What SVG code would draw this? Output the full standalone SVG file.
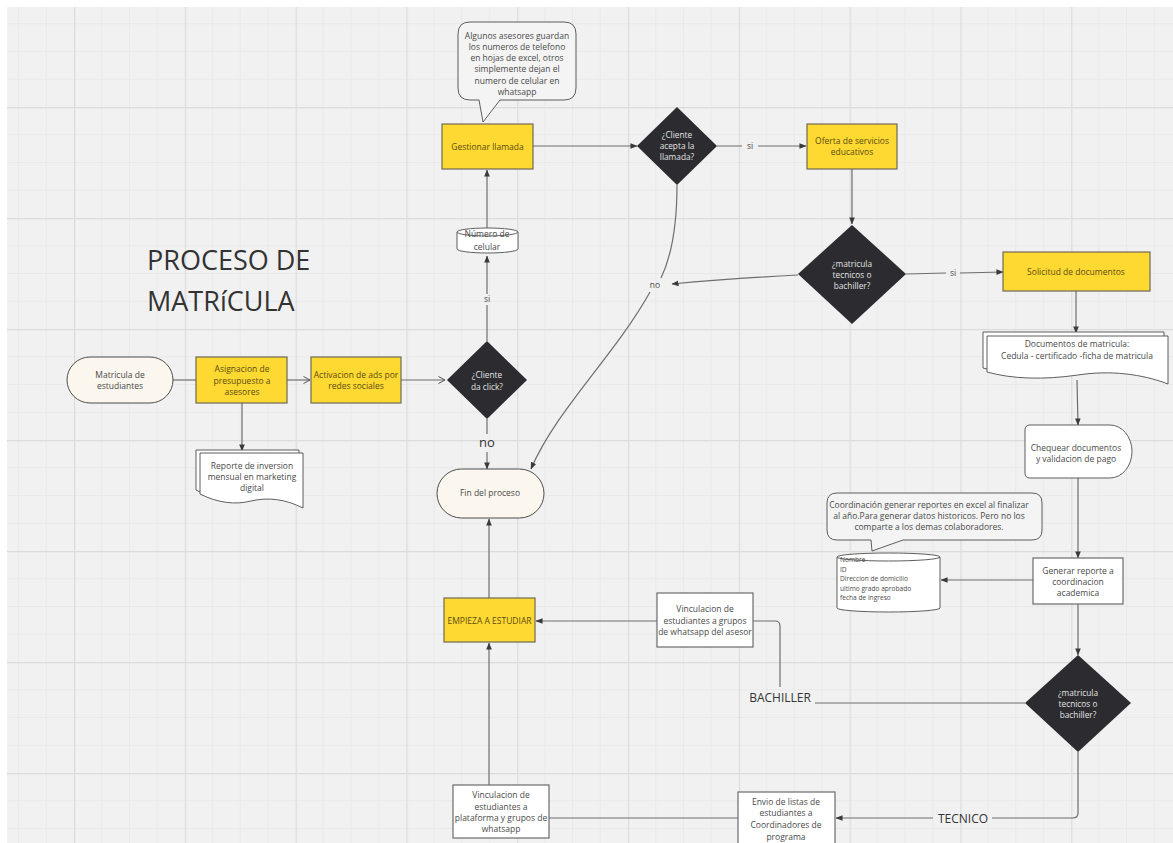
<svg xmlns="http://www.w3.org/2000/svg" width="1173" height="843" viewBox="0 0 1173 843">
  <defs>
    <pattern id="grid" patternUnits="userSpaceOnUse" x="74" y="-4" width="110.8" height="111">
      <rect width="110.8" height="111" fill="#f1f1f1"/>
      <path d="M27.7,0V111M55.4,0V111M83.1,0V111M0,27.75H110.8M0,55.5H110.8M0,83.25H110.8" stroke="#e9e9e9" stroke-width="1" fill="none"/>
      <path d="M0.5,0V111M0,0.5H110.8" stroke="#dcdcdc" stroke-width="1.4" fill="none"/>
    </pattern>
    <marker id="tri" viewBox="0 0 8 8" refX="7.5" refY="4" markerWidth="7" markerHeight="7" orient="auto" markerUnits="userSpaceOnUse">
      <path d="M0,0.8 L8,4 L0,7.2 Z" fill="#3a3a3a"/>
    </marker>
    <marker id="chev" viewBox="0 0 8 8" refX="7.5" refY="4" markerWidth="8" markerHeight="8" orient="auto" markerUnits="userSpaceOnUse">
      <path d="M1,0.5 L7.5,4 L1,7.5" fill="none" stroke="#555" stroke-width="1"/>
    </marker>
    <clipPath id="noteClip">
      <rect x="458" y="22" width="118" height="75.5"/>
    </clipPath>
    <style>
      .t { font-family: "Open Sans", "Liberation Sans", sans-serif; font-size: 8.5px; text-anchor: middle; }
      .dk { fill: #4a4a4a; }
      .yt { fill: #5b4b12; }
      .wt { fill: #e4e4e4; font-size: 8.3px; }
      .big { font-family: "Open Sans", "Liberation Sans", sans-serif; fill: #333; }
      .yel { fill: #fed932; stroke: #6d6a55; stroke-width: 1.2; }
      .box { fill: #ffffff; stroke: #6b6b6b; stroke-width: 1.2; }
      .term { fill: #fbf6ee; stroke: #4d4d4d; stroke-width: 1; }
      .dia { fill: #2b2b30; }
      .doc { fill: #ffffff; stroke: #4d4d4d; stroke-width: 0.9; }
      .note { fill: #f4f4f4; stroke: #4d4d4d; stroke-width: 0.9; }
      .c { fill: none; stroke: #6e6e6e; stroke-width: 1.2; }
    </style>
  </defs>

  <!-- canvas -->
  <rect width="1173" height="843" fill="#ffffff"/>
  <rect x="7" y="7" width="1166" height="836" fill="url(#grid)"/>

  <!-- title -->
  <g id="title">
    <text class="big" x="147" y="270" font-size="27">PROCESO DE</text>
    <text class="big" x="147" y="311" font-size="27">MATRíCULA</text>
  </g>

  <!-- connectors -->
  <g id="connectors">
    <path class="c" d="M173,380 H197"/>
    <path class="c" d="M287,380 H310" marker-end="url(#chev)"/>
    <path class="c" d="M401,380 H445" marker-end="url(#chev)"/>
    <path class="c" d="M242,403 V451" marker-end="url(#tri)"/>
    <path class="c" d="M487,341 V305 M487,294 V256" marker-end="url(#tri)"/>
    <path class="c" d="M487,228 V170" marker-end="url(#tri)"/>
    <path class="c" d="M487,419 V434 M487,452 V469" marker-end="url(#tri)"/>
    <path class="c" d="M533,146 H637" marker-end="url(#tri)"/>
    <path class="c" d="M717,146 H742 M758,146 H806" marker-end="url(#tri)"/>
    <path class="c" d="M677,185 C677,225 672,255 661,278 M650,292 C615,355 556,410 531,469" marker-end="url(#tri)"/>
    <path class="c" d="M798,275 C760,277 715,280 672,284" marker-end="url(#tri)"/>
    <path class="c" d="M852,169 V224" marker-end="url(#tri)"/>
    <path class="c" d="M906,274 L946,273 M960,273 L1003,272" marker-end="url(#tri)"/>
    <path class="c" d="M1076,291 V333" marker-end="url(#tri)"/>
    <path class="c" d="M1077,380 L1078,425" marker-end="url(#tri)"/>
    <path class="c" d="M1078,478 V558" marker-end="url(#tri)"/>
    <path class="c" d="M1033,580 H941" marker-end="url(#tri)"/>
    <path class="c" d="M1078,604 V655" marker-end="url(#tri)"/>
    <path class="c" d="M1025,703 H815"/>
    <path class="c" d="M780,687 V626 Q780,621 775,621 H753"/>
    <path class="c" d="M657,621 H536" marker-end="url(#tri)"/>
    <path class="c" d="M489,598 V519" marker-end="url(#tri)"/>
    <path class="c" d="M489,785 V643" marker-end="url(#tri)"/>
    <path class="c" d="M738,818 H549"/>
    <path class="c" d="M1078,752 V813 Q1078,818 1073,818 H992 M933,818 H836" marker-end="url(#tri)"/>
  </g>

  <!-- connector labels -->
  <g id="labels">
    <text class="t dk" x="487" y="302" font-size="8">si</text>
    <text class="big" x="487" y="447" font-size="13" text-anchor="middle">no</text>
    <text class="t dk" x="750" y="149" font-size="8">si</text>
    <text class="t dk" x="655" y="288" font-size="8.5">no</text>
    <text class="t dk" x="953" y="276" font-size="8">si</text>
    <text class="big" x="780" y="702" font-size="12" text-anchor="middle">BACHILLER</text>
    <text class="big" x="963" y="823" font-size="12" text-anchor="middle">TECNICO</text>
  </g>

  <g id="n-matricula">
    <rect class="term" x="67" y="357" width="106" height="46" rx="23"/>
    <text class="t dk" x="120" y="378">Matricula de</text>
    <text class="t dk" x="120" y="389">estudiantes</text>
  </g>

  <g id="n-asignacion">
    <rect class="yel" x="196" y="357" width="91" height="46"/>
    <text class="t yt" x="242" y="372">Asignacion de</text>
    <text class="t yt" x="242" y="384">presupuesto a</text>
    <text class="t yt" x="242" y="395">asesores</text>
  </g>

  <g id="n-reporte">
    <path class="doc" d="M196,450 H299 V503 C280,495 265,494 248,498 C232,502 215,500 196,490 Z"/>
    <path class="doc" d="M200,453 H303 V508 C285,499 268,497 251,501 C235,505 218,503 200,494 Z"/>
    <text class="t dk" x="252" y="469">Reporte de inversion</text>
    <text class="t dk" x="252" y="480">mensual en marketing</text>
    <text class="t dk" x="252" y="491">digital</text>
  </g>

  <g id="n-activacion">
    <rect class="yel" x="311" y="357" width="90" height="46"/>
    <text class="t yt" x="356" y="378">Activacion de ads por</text>
    <text class="t yt" x="356" y="389">redes sociales</text>
  </g>

  <g id="n-click">
    <path class="dia" d="M487,341 L527,380 L487,419 L447,380 Z"/>
    <text class="t wt" x="487" y="378">¿Cliente</text>
    <text class="t wt" x="487" y="390">da click?</text>
  </g>

  <g id="n-celular">
    <path class="doc" d="M457,232 A30.5,4 0 0 1 518,232 V249 A30.5,4 0 0 1 457,249 Z"/>
    <path class="doc" d="M457,232 A30.5,4 0 0 0 518,232" fill="none"/>
    <text class="t dk" x="487" y="237" font-size="9.5">Número de</text>
    <text class="t dk" x="487" y="250" font-size="9.5">celular</text>
  </g>

  <g id="n-gestionar">
    <rect class="yel" x="442" y="124" width="91" height="45"/>
    <text class="t yt" x="487.5" y="150">Gestionar llamada</text>
  </g>

  <g id="n-nota-asesores">
    <path class="note" d="M470,22 H564 Q576,22 576,34 V88 Q576,100 564,100 H500 L483,122 L479,100 H470 Q458,100 458,88 V34 Q458,22 470,22 Z"/>
    <g clip-path="url(#noteClip)">
      <text class="t dk" x="517" y="39">Algunos asesores guardan</text>
      <text class="t dk" x="517" y="50">los numeros de telefono</text>
      <text class="t dk" x="517" y="61">en hojas de excel, otros</text>
      <text class="t dk" x="517" y="72">simplemente dejan el</text>
      <text class="t dk" x="517" y="83.5">numero de celular en</text>
      <text class="t dk" x="517" y="95">whatsapp</text>
    </g>
  </g>

  <g id="n-acepta">
    <path class="dia" d="M677,107 L717,146 L677,185 L637,146 Z"/>
    <text class="t wt" x="677" y="138">¿Cliente</text>
    <text class="t wt" x="677" y="149">acepta la</text>
    <text class="t wt" x="677" y="160">llamada?</text>
  </g>

  <g id="n-oferta">
    <rect class="yel" x="807" y="124" width="90" height="45"/>
    <text class="t yt" x="852" y="144">Oferta de servicios</text>
    <text class="t yt" x="852" y="155">educativos</text>
  </g>

  <g id="n-tipo1">
    <path class="dia" d="M852,225 L906,274 L852,324 L798,274 Z"/>
    <text class="t wt" x="852" y="267">¿matricula</text>
    <text class="t wt" x="852" y="278">tecnicos o</text>
    <text class="t wt" x="852" y="289">bachiller?</text>
  </g>

  <g id="n-fin">
    <rect class="term" x="437" y="469" width="107" height="49" rx="24.5"/>
    <text class="t dk" x="490" y="496">Fin del proceso</text>
  </g>

  <g id="n-solicitud">
    <rect class="yel" x="1003" y="252" width="147" height="39"/>
    <text class="t yt" x="1076" y="275">Solicitud de documentos</text>
  </g>

  <g id="n-documentos">
    <path class="doc" d="M983,332 H1164 V378 C1140,370 1110,367 1075,372 C1040,377 1010,376 983,368 Z"/>
    <path class="doc" d="M987,336 H1168 V384 C1142,374 1110,370 1078,375 C1043,380 1012,379 987,372 Z"/>
    <text class="t dk" x="1077" y="347">Documentos de matricula:</text>
    <text class="t dk" x="1077" y="359">Cedula - certificado -ficha de matricula</text>
  </g>

  <g id="n-chequear">
    <path class="doc" d="M1030,425 H1110 A22,26.5 0 0 1 1110,478 H1030 Q1025,478 1025,473 V430 Q1025,425 1030,425 Z"/>
    <text class="t dk" x="1076" y="451">Chequear documentos</text>
    <text class="t dk" x="1076" y="462">y validacion de pago</text>
  </g>

  <g id="n-nota-coordinacion">
    <path class="note" d="M837,493 H1032 Q1042,493 1042,503 V530 Q1042,540 1032,540 H903 L872,551 L871,540 H837 Q827,540 827,530 V503 Q827,493 837,493 Z"/>
    <text class="t dk" x="929" y="508">Coordinación generar reportes en excel al finalizar</text>
    <text class="t dk" x="929" y="519">al año.Para generar datos historicos. Pero no los</text>
    <text class="t dk" x="929" y="530">comparte a los demas colaboradores.</text>
  </g>

  <g id="n-base-datos">
    <path class="doc" d="M837,557 A51.5,4 0 0 1 940,557 V608 A51.5,4 0 0 1 837,608 Z" fill="#f6f6f6"/>
    <path class="doc" d="M837,557 A51.5,4 0 0 0 940,557" fill="none"/>
    <g font-family="'Open Sans', 'Liberation Sans', sans-serif" font-size="6.6" fill="#4a4a4a">
      <text x="840" y="562">Nombre</text>
      <text x="840" y="571.5">ID</text>
      <text x="840" y="581">Direccion de domicilio</text>
      <text x="840" y="590.5">ultimo grado aprobado</text>
      <text x="840" y="600">fecha de ingreso</text>
    </g>
  </g>

  <g id="n-generar">
    <rect class="box" x="1033" y="558" width="90" height="46"/>
    <text class="t dk" x="1078" y="574" font-size="9">Generar reporte a</text>
    <text class="t dk" x="1078" y="585" font-size="9">coordinacion</text>
    <text class="t dk" x="1078" y="596" font-size="9">academica</text>
  </g>

  <g id="n-tipo2">
    <path class="dia" d="M1078,655 L1131,703 L1078,752 L1025,703 Z"/>
    <text class="t wt" x="1078" y="696">¿matricula</text>
    <text class="t wt" x="1078" y="707">tecnicos o</text>
    <text class="t wt" x="1078" y="718">bachiller?</text>
  </g>

  <g id="n-vinc-asesor">
    <rect class="box" x="657" y="593" width="96" height="54"/>
    <text class="t dk" x="705" y="612">Vinculacion de</text>
    <text class="t dk" x="705" y="624">estudiantes a grupos</text>
    <text class="t dk" x="705" y="635">de whatsapp del asesor</text>
  </g>

  <g id="n-empieza">
    <rect class="yel" x="444" y="598" width="91" height="44"/>
    <text class="t yt" x="489.5" y="624" font-size="8.3">EMPIEZA A ESTUDIAR</text>
  </g>

  <g id="n-vinc-plataforma">
    <rect class="box" x="453" y="785" width="96" height="53"/>
    <text class="t dk" x="501" y="798">Vinculacion de</text>
    <text class="t dk" x="501" y="810">estudiantes a</text>
    <text class="t dk" x="501" y="821">plataforma y grupos de</text>
    <text class="t dk" x="501" y="832">whatsapp</text>
  </g>

  <g id="n-envio">
    <rect class="box" x="738" y="792" width="97" height="56"/>
    <text class="t dk" x="786" y="805">Envio de listas de</text>
    <text class="t dk" x="786" y="816">estudiantes a</text>
    <text class="t dk" x="786" y="828">Coordinadores de</text>
    <text class="t dk" x="786" y="840">programa</text>
  </g>
</svg>
